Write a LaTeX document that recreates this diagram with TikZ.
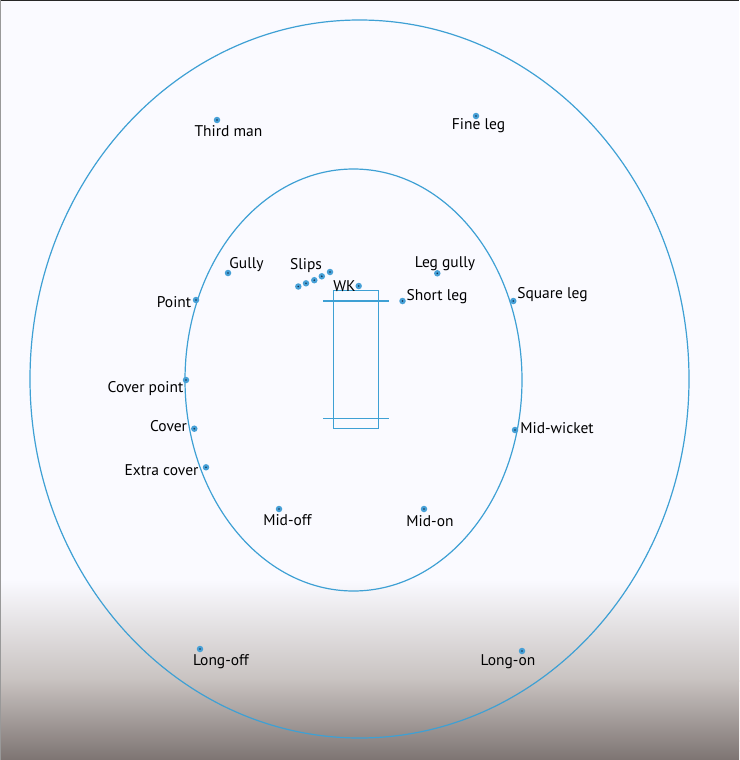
\documentclass[tikz,border=0pt]{standalone}
\usetikzlibrary{shapes.geometric}
\usepackage{fontspec}
\setmainfont{PT Sans}
\definecolor{fieldblue}{RGB}{62,160,212}
\definecolor{dotblue}{RGB}{70,160,215}
\definecolor{dotcore}{RGB}{20,50,80}
\definecolor{bgmid}{RGB}{200,194,192}
\definecolor{bgbot}{RGB}{125,116,114}
\tikzset{
  fieldline/.style={draw=fieldblue, line width=1.2pt},
  fielder/.style={circle, fill=dotblue, inner sep=0pt, minimum size=6.5pt, path picture={\fill[dotcore] (path picture bounding box.center) circle (0.9pt);}},
  lbl/.style={inner sep=0pt, font=\fontsize{15.5}{17}\selectfont, text=black}
}
\begin{document}
\begin{tikzpicture}[x=1pt,y=-1pt]
\useasboundingbox (0,0) rectangle (739,760);
% background
\fill[white!98!blue] (0,0) rectangle (739,580);
\shade[top color=white!98!blue, bottom color=bgmid] (0,580) rectangle (739,681);
\shade[top color=bgmid, bottom color=bgbot] (0,680) rectangle (739,760);
\fill[black!85] (0,0) rectangle (739,1.5);
\fill[black!40] (0,0) rectangle (1.2,760);
% ellipses
\node[fieldline, ellipse, minimum width=659pt, minimum height=718pt, inner sep=0pt] (outer) at (359.5,379) {};
\node[fieldline, ellipse, minimum width=337pt, minimum height=422pt, inner sep=0pt] (inner) at (353.5,380) {};
% pitch
\node[fieldline, minimum width=45.5pt, minimum height=138pt, inner sep=0pt] (pitch) at (356,359.7) {};
\coordinate (c1l) at (323,301); \coordinate (c1r) at (389,301);
\coordinate (c2l) at (323,418.3); \coordinate (c2r) at (389,418.3);
\draw[fieldline] (c1l) -- (c1r);
\draw[fieldline] (c2l) -- (c2r);
% fielders
\node[fielder] (thirdman) at (217,120) {};
\node[fielder] (fineleg) at (476,116) {};
\node[fielder] (gully) at (228,273) {};
\node[fielder] (slip1) at (298.3,286.5) {};
\node[fielder] (slip2) at (306,283.3) {};
\node[fielder] (slip3) at (314.3,280.2) {};
\node[fielder] (slip4) at (321.8,276.3) {};
\node[fielder] (slip5) at (330,272) {};
\node[fielder] (wk) at (358.7,286) {};
\node[fielder] (shortleg) at (402.5,301) {};
\node[fielder] (leggully) at (437.3,273.3) {};
\node[fielder] (squareleg) at (513.3,301) {};
\node[fielder] (point) at (196,300) {};
\node[fielder] (coverpoint) at (186,380) {};
\node[fielder] (cover) at (194.3,428.7) {};
\node[fielder] (extracover) at (206,467.3) {};
\node[fielder] (midwicket) at (515,430) {};
\node[fielder] (midoff) at (279,509) {};
\node[fielder] (midon) at (424,509) {};
\node[fielder] (longoff) at (200,649) {};
\node[fielder] (longon) at (522,651) {};
% labels
\node[lbl] (tThirdman) at (228.5,131) {Third man};
\node[lbl] (tFineleg) at (478.5,126) {Fine leg};
\node[lbl] (tGully) at (246.5,265) {Gully};
\node[lbl] (tSlips) at (306,266) {Slips};
\node[lbl] (tWK) at (344.5,286) {WK};
\node[lbl] (tShortleg) at (437,297) {Short leg};
\node[lbl] (tLeggully) at (445,264) {Leg gully};
\node[lbl] (tSquareleg) at (552.5,295) {Square leg};
\node[lbl] (tPoint) at (174,302) {Point};
\node[lbl] (tCoverpoint) at (145.5,389) {Cover point};
\node[lbl] (tCover) at (168.5,426) {Cover};
\node[lbl] (tExtracover) at (161.5,470) {Extra cover};
\node[lbl] (tMidwicket) at (557,428) {Mid-wicket};
\node[lbl] (tMidoff) at (287.5,520) {Mid-off};
\node[lbl] (tMidon) at (430,521) {Mid-on};
\node[lbl] (tLongoff) at (221,662) {Long-off};
\node[lbl] (tLongon) at (508,662) {Long-on};
\end{tikzpicture}
\end{document}
